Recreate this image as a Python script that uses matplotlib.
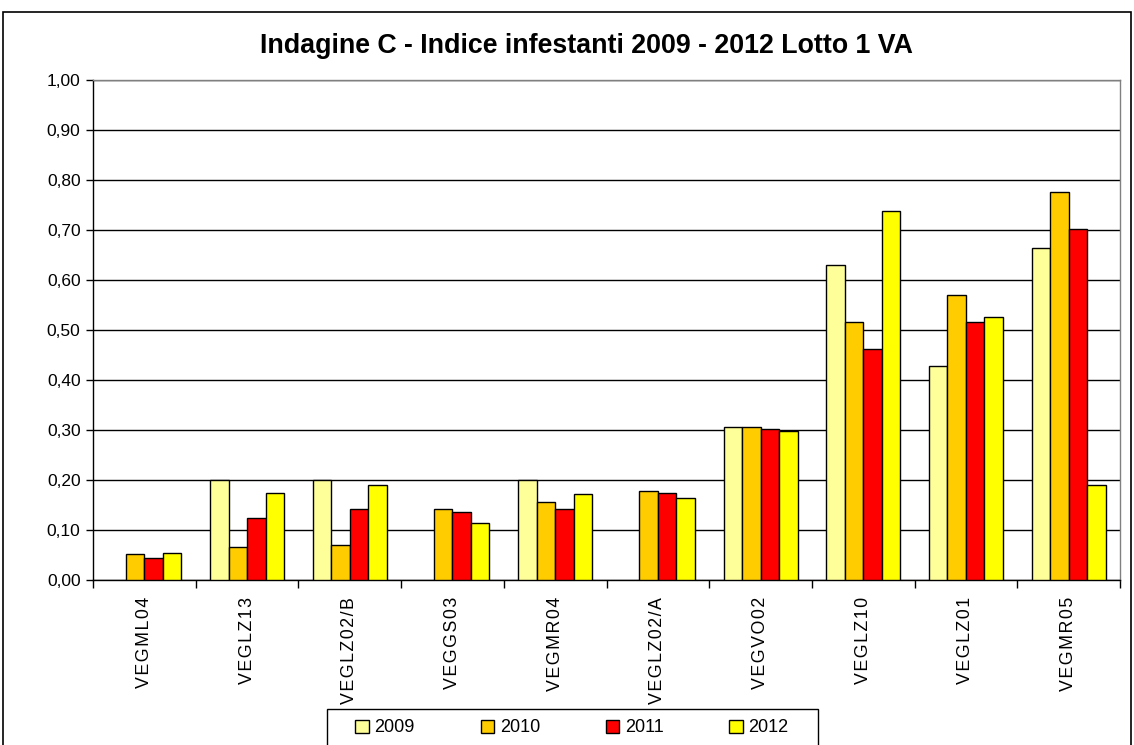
import matplotlib
matplotlib.use("Agg")
import matplotlib.pyplot as plt
import numpy as np
from matplotlib.patches import Rectangle

categories = ["VEGML04", "VEGLZ13", "VEGLZ02/B", "VEGGS03", "VEGMR04",
              "VEGLZ02/A", "VEGVO02", "VEGLZ10", "VEGLZ01", "VEGMR05"]
years = ["2009", "2010", "2011", "2012"]
v2009 = [0.0, 0.200, 0.200, 0.0, 0.200, 0.0, 0.307, 0.631, 0.428, 0.665]
v2010 = [0.052, 0.067, 0.071, 0.143, 0.156, 0.179, 0.307, 0.517, 0.571, 0.777]
v2011 = [0.045, 0.125, 0.143, 0.137, 0.143, 0.175, 0.302, 0.463, 0.517, 0.703]
v2012 = [0.055, 0.175, 0.191, 0.115, 0.172, 0.165, 0.298, 0.738, 0.527, 0.191]
series = [v2009, v2010, v2011, v2012]
colors = ["#FFFF99", "#FFCC00", "#FF0000", "#FFFF00"]
yticks = [0.0, 0.1, 0.2, 0.3, 0.4, 0.5, 0.6, 0.7, 0.8, 0.9, 1.0]

W, H = 1134, 745
fig = plt.figure(figsize=(W / 100, H / 100), dpi=100)
fig.patch.set_facecolor("white")

def fx(px):
    return px / W

def fy(py):
    return 1 - py / H

FAM = ["Liberation Sans", "DejaVu Sans"]

# outer chart border
fig.patches.append(Rectangle((fx(3), fy(790)), fx(1131) - fx(3), fy(12) - fy(790),
                             transform=fig.transFigure, fill=False,
                             edgecolor="black", linewidth=1.2))

left, right, top, bottom = 93, 1120, 80, 580
ax = fig.add_axes([fx(left), fy(bottom), fx(right) - fx(left), fy(top) - fy(bottom)])

x = np.arange(len(categories))
bw = 0.18
for i, (vals, c, yr) in enumerate(zip(series, colors, years)):
    xs = x + (i - 1.5) * bw
    vv = np.array(vals)
    mask = vv > 0
    ax.bar(xs[mask], vv[mask], width=bw, color=c, edgecolor="black",
           linewidth=1.0, label=yr, zorder=3)

ax.set_xlim(-0.5, len(categories) - 0.5)
ax.set_ylim(0, 1.0)
ax.set_yticks(yticks)
ax.set_yticklabels([f"{t:.2f}".replace(".", ",") for t in yticks],
                   fontsize=12.5, family=FAM)
ax.yaxis.grid(True, color="black", linewidth=1.0, zorder=0)
ax.set_axisbelow(True)
ax.tick_params(axis="y", direction="out", length=5, width=1, pad=4)

ax.set_xticks(x)
spaced = ["\u200a".join(list(c)) for c in categories]
ax.set_xticklabels(spaced, rotation=90, fontsize=12.8, family=FAM, va="top")
ax.set_xticks(np.arange(-0.5, len(categories)), minor=True)
ax.tick_params(axis="x", which="major", length=0, pad=12)
ax.tick_params(axis="x", which="minor", direction="out", length=6, width=1)

for s in ["left", "bottom"]:
    ax.spines[s].set_color("black")
    ax.spines[s].set_linewidth(1.0)
for s in ["right", "top"]:
    ax.spines[s].set_color("#808080")
    ax.spines[s].set_linewidth(1.0)

# title
fig.text(fx(587), fy(46), "Indagine C - Indice infestanti 2009 - 2012 Lotto 1 VA",
         ha="center", va="center", fontsize=19.3, fontweight="bold", family=FAM)

# legend
fig.patches.append(Rectangle((fx(327), fy(790)), fx(818) - fx(327), fy(709) - fy(790),
                             transform=fig.transFigure, fill=True, facecolor="white",
                             edgecolor="black", linewidth=1.0, zorder=5))
leg = fig.legend(loc="center", bbox_to_anchor=(fx(572), fy(728)), ncol=4,
                 frameon=False, handlelength=0.75, handleheight=0.75,
                 columnspacing=3.65, handletextpad=0.3,
                 prop={"family": FAM, "size": 13})
leg.set_zorder(6)

fig.savefig("out.png", dpi=100)
